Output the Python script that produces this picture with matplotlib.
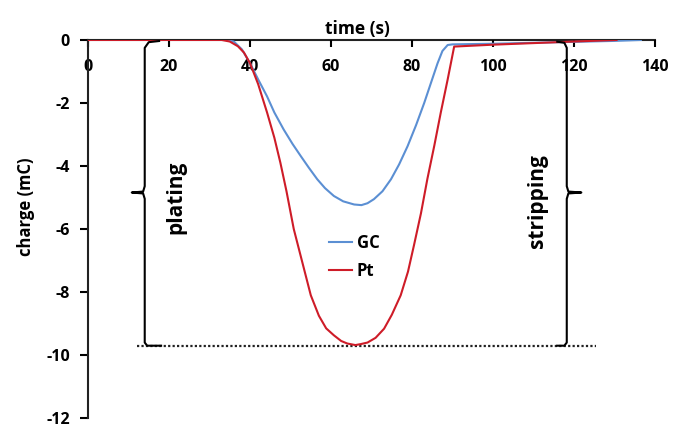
import matplotlib
matplotlib.use("Agg")
import matplotlib.pyplot as plt

plt.rcParams['font.family'] = ['Open Sans', 'DejaVu Sans']

# ---- data
t_gc = [0, 34, 36, 38, 40, 42, 44.2, 46, 48.3, 50.5, 52.5, 54.5, 56.6, 58.5, 60.7,
        63, 65.7, 67.5, 69, 70.6, 72.7, 74.8, 76.8, 78.9, 81, 83, 84.7, 86.3,
        87.5, 88.8, 90, 100, 110, 120, 130, 136.5]
q_gc = [0, 0, -0.05, -0.3, -0.74, -1.25, -1.79, -2.3, -2.84, -3.3, -3.68, -4.05,
        -4.42, -4.7, -4.95, -5.12, -5.22, -5.24, -5.18, -5.05, -4.8, -4.42, -3.95,
        -3.37, -2.7, -2.0, -1.35, -0.74, -0.35, -0.16, -0.14, -0.12, -0.09, -0.06,
        -0.03, 0]

t_pt = [0, 33, 35, 37, 38.5, 40, 42, 44.2, 46, 47.5, 49, 50.8, 53, 55, 57, 58.8,
        60.7, 62.5, 64, 66, 67.3, 69, 71, 73.1, 75, 77.2, 79, 80.5, 82.2, 83.8,
        85.5, 87.1, 88.8, 90.4, 100, 110, 120, 130.5]
q_pt = [0, 0, -0.05, -0.2, -0.4, -0.74, -1.4, -2.3, -3.1, -3.9, -4.8, -6.0, -7.1,
        -8.1, -8.75, -9.15, -9.37, -9.55, -9.63, -9.68, -9.65, -9.6, -9.45, -9.16,
        -8.72, -8.1, -7.35, -6.5, -5.5, -4.4, -3.35, -2.3, -1.25, -0.21, -0.15,
        -0.1, -0.05, 0]

x_ticks = [0, 20, 40, 60, 80, 100, 120, 140]
y_ticks = [-12, -10, -8, -6, -4, -2, 0]

q_min = -9.7          # level of the dotted line
left_x, right_x = 14.0, 118.2
mid_y = -4.84

blue = '#5B8FD3'
red = '#CE1C28'

fig = plt.figure(figsize=(6.74, 4.25), dpi=100)
ax = fig.add_axes([0.1306, 0.016, 0.8413, 0.890])

ax.plot(t_gc, q_gc, color=blue, lw=1.5, label='GC', zorder=3)
ax.plot(t_pt, q_pt, color=red, lw=1.5, label='Pt', zorder=4)

# brackets
bk = dict(color='black', lw=1.5, solid_capstyle='butt', zorder=5)
ax.plot([17.8, 15.0, left_x, left_x, 13.6, 10.8, 13.6, left_x, left_x, 14.6, 18.3],
        [-0.03, -0.07, -0.25, mid_y + 0.2, mid_y + 0.03, mid_y, mid_y - 0.03,
         mid_y - 0.2, q_min + 0.1, q_min, q_min], **bk)
ax.plot([115.6, 117.6, right_x, right_x, 118.6, 121.8, 118.6, right_x, right_x, 117.6, 115.6],
        [-0.05, -0.09, -0.25, mid_y + 0.2, mid_y + 0.03, mid_y, mid_y - 0.03,
         mid_y - 0.2, q_min + 0.1, q_min, q_min], **bk)
ax.plot([12.0, 125.5], [q_min, q_min], color='#222222', lw=1.6,
        linestyle=(0, (1, 1)), zorder=2)

ax.text(21.8, -5.0, 'plating', rotation=90, ha='center', va='center',
        fontsize=15, fontweight='bold')
ax.text(111, -5.1, 'stripping', rotation=90, ha='center', va='center',
        fontsize=15, fontweight='bold')

ax.set_xlim(0, 140)
ax.set_ylim(-12, 0)
ax.spines['bottom'].set_position(('data', 0))
ax.spines['top'].set_visible(False)
ax.spines['right'].set_visible(False)
for s in ['bottom', 'left']:
    ax.spines[s].set_linewidth(1.5)
    ax.spines[s].set_color('#222222')
ax.spines['bottom'].set_zorder(1)

ax.set_xticks(x_ticks)
ax.set_yticks(y_ticks)
ax.set_yticklabels([str(v) for v in y_ticks])
ax.tick_params(axis='x', direction='out', length=5, width=1.5, pad=9,
               labelsize=11.5)
ax.tick_params(axis='y', direction='out', length=6, width=1.5, pad=7,
               labelsize=11.5)
for lab in ax.get_xticklabels() + ax.get_yticklabels():
    lab.set_fontweight('bold')

ax.xaxis.set_label_position('top')
ax.set_xlabel('time (s)', fontsize=12.5, fontweight='bold', labelpad=4)
ax.xaxis.label.set_x(0.475)
ax.set_ylabel('charge (mC)', fontsize=12, fontweight='bold', labelpad=8)
ax.yaxis.label.set_y(0.558)

ax.legend(loc='center left', bbox_to_anchor=(59.4, -6.88),
          bbox_transform=ax.transData, frameon=False, borderpad=0,
          borderaxespad=0, handlelength=1.4, handletextpad=0.3,
          labelspacing=0.6, prop={'size': 12, 'weight': 'bold'})

fig.savefig('out.png', dpi=100)
